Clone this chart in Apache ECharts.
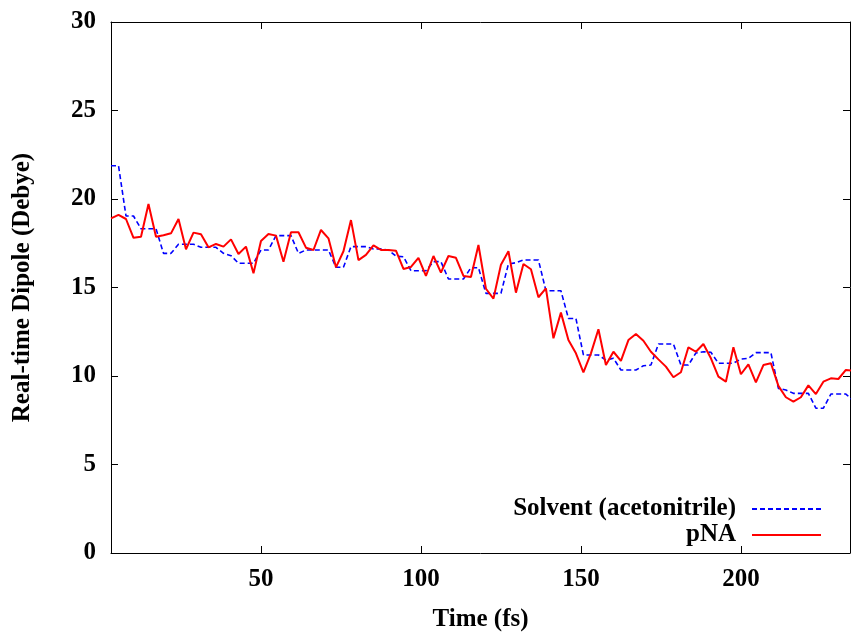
<!DOCTYPE html>
<html>
<head>
<meta charset="utf-8">
<script src="https://cdn.jsdelivr.net/npm/echarts@6/dist/echarts.min.js"></script>
<style>
html,body{margin:0;padding:0;background:#fff;}
#c{width:851px;height:633px;}
</style>
</head>
<body>
<div id="c"></div>
<script>
// Time (fs)
var times = [3.13,5.47,7.81,10.16,12.50,14.84,17.19,19.53,21.88,24.22,
26.56,28.91,31.25,33.59,35.94,38.28,40.63,42.97,45.31,47.66,
50.00,52.34,54.69,57.03,59.38,61.72,64.06,66.41,68.75,71.09,
73.44,75.78,78.13,80.47,82.81,85.16,87.50,89.84,92.19,94.53,
96.88,99.22,101.56,103.91,106.25,108.59,110.94,113.28,115.63,117.97,
120.31,122.66,125.00,127.34,129.69,132.03,134.38,136.72,139.06,141.41,
143.75,146.09,148.44,150.78,153.13,155.47,157.81,160.16,162.50,164.84,
167.19,169.53,171.88,174.22,176.56,178.91,181.25,183.59,185.94,188.28,
190.63,192.97,195.31,197.66,200.00,202.34,204.69,207.03,209.38,211.72,
214.06,216.41,218.75,221.09,223.44,225.78,228.13,230.47,232.81,235.16];

// Solvent (acetonitrile) dipole (Debye)
var solvent = [21.88,21.88,19.04,19.04,18.32,18.32,18.32,16.93,16.93,17.44,
17.44,17.44,17.27,17.27,17.27,16.93,16.80,16.37,16.37,16.37,
17.12,17.12,17.93,17.93,17.93,16.93,17.12,17.12,17.12,17.12,
16.14,16.14,17.31,17.31,17.31,17.18,17.18,17.12,16.77,16.74,
15.95,15.95,15.95,16.46,16.46,15.48,15.48,15.48,16.12,16.12,
14.67,14.67,14.67,16.33,16.40,16.55,16.55,16.55,14.82,14.82,
14.82,13.25,13.25,11.19,11.19,11.19,10.90,11.00,10.34,10.34,
10.34,10.58,10.62,11.81,11.81,11.81,10.62,10.62,11.30,11.37,
11.34,10.72,10.72,10.72,10.96,11.00,11.32,11.32,11.32,9.30,
9.21,9.02,9.02,9.02,8.18,8.18,8.98,8.98,8.98,8.60];

// pNA dipole (Debye)
var pna = [18.91,19.10,18.87,17.81,17.87,19.72,17.87,17.95,18.06,18.87,
17.16,18.10,18.01,17.27,17.46,17.31,17.72,16.89,17.31,15.80,
17.63,18.02,17.93,16.46,18.12,18.12,17.25,17.12,18.25,17.78,
16.14,17.05,18.81,16.55,16.84,17.38,17.12,17.12,17.08,16.05,
16.16,16.68,15.65,16.78,15.84,16.78,16.68,15.65,15.59,17.40,
14.93,14.37,16.29,17.05,14.71,16.33,16.03,14.45,14.95,12.13,
13.58,12.03,11.28,10.21,11.28,12.64,10.62,11.37,10.85,12.03,
12.37,11.99,11.37,10.94,10.53,9.93,10.21,11.62,11.37,11.81,
11.00,9.96,9.68,11.62,10.10,10.66,9.64,10.62,10.72,9.44,
8.80,8.55,8.80,9.47,8.98,9.68,9.87,9.83,10.34,10.30];

var xTicks = [50, 100, 150, 200];
var yTicks = [0, 5, 10, 15, 20, 25, 30];
var seriesNames = ['Solvent (acetonitrile)', 'pNA'];

var FONT = '"Liberation Serif", "DejaVu Serif", serif';
var XMIN = 3.125, XMAX = 234.1;

function pairs(vals){ return times.map(function(t,i){ return [t, vals[i]]; }); }

var chart = echarts.init(document.getElementById('c'), null, {renderer:'canvas'});
var tickCommon = {show:true, inside:true, length:7, lineStyle:{color:'#000', width:1}};
var option = {
  animation: false,
  backgroundColor: '#fff',
  grid: {left:111, right:1, top:22, bottom:80, containLabel:false, outerBoundsMode:'none'},
  legend: {
    orient: 'vertical',
    right: 29,
    top: 496,
    padding: 0,
    align: 'right',
    itemWidth: 69,
    itemHeight: 14,
    itemGap: 0,
    data: seriesNames,
    itemStyle: {color: 'rgba(0,0,0,0)', borderColor: 'rgba(0,0,0,0)', borderWidth: 0},
    textStyle: {fontFamily: FONT, fontWeight: 'bold', fontSize: 25, lineHeight: 26, color: '#000', padding:[0,11,0,0]}
  },
  xAxis: [{
    type: 'value', position: 'bottom', min: XMIN, max: XMAX,
    name: 'Time (fs)', nameLocation: 'middle', nameGap: 54,
    nameTextStyle: {fontFamily: FONT, fontWeight: 'bold', fontSize: 25, color: '#000'},
    axisLine: {show:true, lineStyle:{color:'#000', width:1}},
    axisTick: Object.assign({customValues: xTicks}, tickCommon),
    axisLabel: {customValues: xTicks, margin: 14, fontFamily: FONT, fontWeight: 'bold', fontSize: 25, color: '#000'},
    splitLine: {show:false}
  }, {
    type: 'value', position: 'top', min: XMIN, max: XMAX,
    axisLine: {show:true, onZero:false, lineStyle:{color:'#000', width:1}},
    axisTick: Object.assign({customValues: xTicks}, tickCommon),
    axisLabel: {show:false},
    splitLine: {show:false}
  }],
  yAxis: [{
    type: 'value', position: 'left', min: 0, max: 30, interval: 5,
    name: 'Real-time Dipole (Debye)', nameLocation: 'middle', nameGap: 76, nameRotate: 90,
    nameTextStyle: {fontFamily: FONT, fontWeight: 'bold', fontSize: 25, color: '#000'},
    axisLine: {show:true, lineStyle:{color:'#000', width:1}},
    axisTick: Object.assign({customValues: yTicks}, tickCommon),
    axisLabel: {customValues: yTicks, margin: 15, fontFamily: FONT, fontWeight: 'bold', fontSize: 25, color: '#000'},
    splitLine: {show:false}
  }, {
    type: 'value', position: 'right', min: 0, max: 30, interval: 5,
    axisLine: {show:true, onZero:false, lineStyle:{color:'#000', width:1}},
    axisTick: Object.assign({customValues: yTicks}, tickCommon),
    axisLabel: {show:false},
    splitLine: {show:false}
  }],
  series: [{
    name: seriesNames[0], type: 'line', xAxisIndex: 0, yAxisIndex: 0,
    data: pairs(solvent), symbol: 'none', showSymbol: false, clip: true,
    lineStyle: {color: '#0000ff', width: 1.6, type: [5, 3]},
    itemStyle: {color: '#0000ff'}
  }, {
    name: seriesNames[1], type: 'line', xAxisIndex: 0, yAxisIndex: 0,
    data: pairs(pna), symbol: 'none', showSymbol: false, clip: true,
    lineStyle: {color: '#ff0000', width: 2},
    itemStyle: {color: '#ff0000'}
  }]
};
chart.setOption(option);
</script>
</body>
</html>
